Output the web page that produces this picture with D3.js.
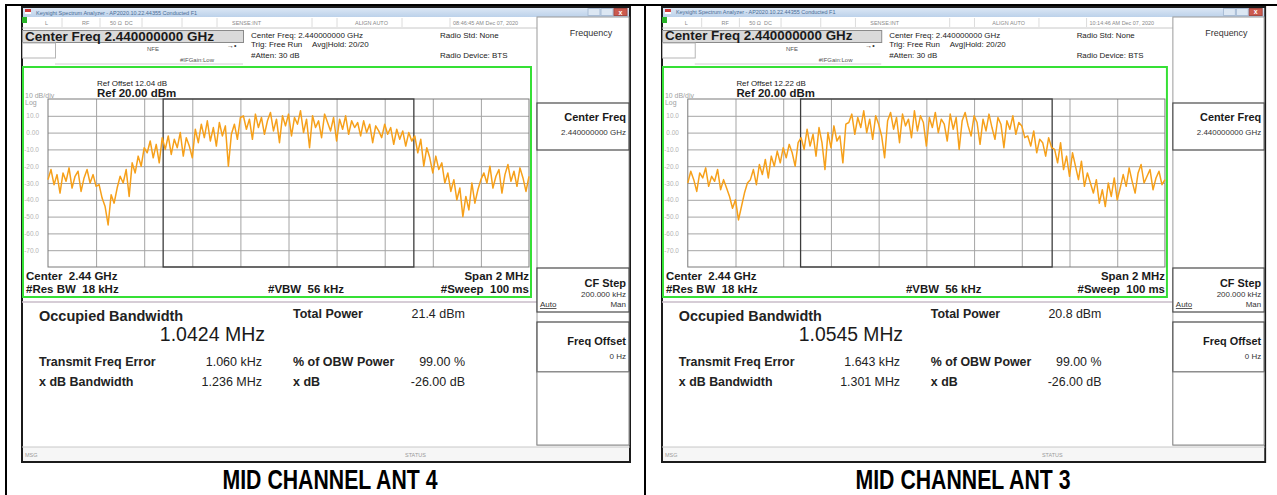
<!DOCTYPE html>
<html>
<head>
<meta charset="utf-8">
<script src="https://cdn.jsdelivr.net/npm/d3@7"></script>
<style>
  body { margin: 0; background: #fff; }
  svg { display: block; font-family: "Liberation Sans", Arial, sans-serif; }
</style>
</head>
<body>
<svg id="chart" width="1277" height="495"></svg>
<script>
// ---- values ----
const panelTitles = ["MID CHANNEL ANT 4", "MID CHANNEL ANT 3"];
const timestamps = ["08:46:45 AM Dec 07, 2020", "10:14:46 AM Dec 07, 2020"];
const refOffsets = ["Ref Offset 12.04 dB", "Ref Offset 12.22 dB"];
const obwMHz = [1.0424, 1.0545];
const obwLabels = ["1.0424 MHz", "1.0545 MHz"];
const totalPowers = ["21.4 dBm", "20.8 dBm"];
const freqErrors = ["1.060 kHz", "1.643 kHz"];
const xdbBandwidths = ["1.236 MHz", "1.301 MHz"];

const yTicks = [10, 0, -10, -20, -30, -40, -50, -60, -70];
const yTickLabels = ["10.0", "0.00", "-10.0", "-20.0", "-30.0", "-40.0", "-50.0", "-60.0", "-70.0"];
const xTicks = [-0.8, -0.6, -0.4, -0.2, 0, 0.2, 0.4, 0.6, 0.8]; // MHz from centre

// trace, dBm, 161 sweep points from -1 MHz to +1 MHz
const ant4Trace = [
  -28,-22,-31,-25,-36,-24,-29,-21,-33,-26,-23,-35,-27,-22,-30,-25,-32,
  -31,-39,-44,-55,-37,-42,-33,
  -26,-30,-22,-38,-18,-24,-14,-20,-9,
  -12,-5,-15,-7,-18,-3,
  -10,-2,-13,-4,-9,0,-14,-3,-8,-15,
  2,-6,5,-3,7,-5,3,-8,6,-2,4,-20,-1,5,-4,9,
  10,2,8,-4,11,3,9,-1,7,12,1,8,-6,10,4,11,-2,9,5,13,0,8,-9,10,3,7,-3,11,6,1,9,-5,8,2,10,-1,7,3,
  6,-2,7,0,5,-6,4,1,-3,5,-1,3,-7,2,-4,1,-8,0,-5,-2,
  -12,-4,-20,-9,-15,-24,
  -14,-22,-18,-30,-24,-35,-28,-40,-33,-50,
  -38,-46,-30,-42,-34,-28,
  -24,-30,-20,-33,-26,-22,-36,-25,-19,-29,-23,-32,-21,-27,-35,-26
];
const ant3Trace = [
  -30,-23,-28,-35,-24,-27,-21,-32,-26,-29,-22,-34,-28,
  -33,-38,-45,-40,-52,-44,-36,-30,
  -28,-22,-31,-19,-25,-16,-27,-14,-20,-11,-18,-9,-15,-7,-12,-20,-6,
  -3,-10,2,-8,-1,-14,3,-6,-22,0,-9,4,-5,-2,-18,5,
  6,11,-1,9,3,13,0,8,-4,10,5,-2,-15,7,12,2,9,-6,11,4,8,-3,13,1,10,6,-8,9,3,12,
  0,8,5,-5,11,2,9,-10,7,12,4,-2,10,6,-7,8,1,11,3,-4,9,5,-9,7,2,10,-1,6,4,-3,
  -2,-8,1,-12,-4,-6,-14,-3,-9,
  -10,-18,-6,-22,-14,-26,-12,-20,-28,-17,-32,-24,-30,
  -36,-28,-42,-34,-44,-30,-38,-27,-40,-33,
  -25,-32,-21,-29,-36,-24,-19,-30,-26,-22,-34,-27,-23,-31,-28
];
const traces = [ant4Trace, ant3Trace];

// ---- layout ----
const svg = d3.select("#chart");
const PW = 608, PH = 455;
const plot = { left: 26, right: 507, top: 92, bottom: 260 };

function txt(g, x, y, s, size, o = {}) {
  return g.append("text")
    .attr("x", x).attr("y", y)
    .attr("font-size", size)
    .attr("font-weight", o.bold ? "bold" : null)
    .attr("text-anchor", o.anchor || "start")
    .attr("fill", o.fill || "#111")
    .style("white-space", "pre")
    .text(s);
}

function box(g, x, y, w, h, stroke, fill, sw) {
  return g.append("rect").attr("x", x).attr("y", y).attr("width", w).attr("height", h)
    .attr("fill", fill || "none").attr("stroke", stroke).attr("stroke-width", sw || 1);
}

const defs = svg.append("defs");
const grad = defs.append("linearGradient").attr("id", "titlebar").attr("x1", 0).attr("x2", 0).attr("y1", 0).attr("y2", 1);
grad.append("stop").attr("offset", 0).attr("stop-color", "#dbe7f5");
grad.append("stop").attr("offset", 1).attr("stop-color", "#bcd1ea");

function drawPanel(g, k) {
  // screenshot frame
  box(g, 0, 0, PW, PH, "#1b1b1b", "#fff", 2);

  // window title bar
  g.append("rect").attr("x", 1).attr("y", 1).attr("width", PW - 2).attr("height", 9).attr("fill", "url(#titlebar)");
  g.append("rect").attr("x", 3).attr("y", 2).attr("width", 6).attr("height", 3).attr("fill", "#d23a3a");
  g.append("rect").attr("x", 3).attr("y", 5).attr("width", 6).attr("height", 2).attr("fill", "#fff");
  txt(g, 14, 7.5, "Keysight Spectrum Analyzer - AP2020.10.22.44355 Conducted F1", 5.5, { fill: "#4a6d96" });
  box(g, 566, 1.5, 12, 7, "#a9bdd6", "#dce7f3");
  box(g, 579, 1.5, 12, 7, "#a9bdd6", "#dce7f3");
  box(g, 592, 1.5, 13, 7, "#a54a44", "#cc5a4e");
  txt(g, 598.5, 7.5, "x", 7, { anchor: "middle", fill: "#fff", bold: true });

  // status row
  g.append("rect").attr("x", 0).attr("y", 10).attr("width", 5).attr("height", 6).attr("fill", "#27b327");
  g.append("line").attr("x1", 0).attr("x2", 515).attr("y1", 21).attr("y2", 21).attr("stroke", "#c8c8c8");
  [[23, "L"], [60, "RF"], [88, "50 \u03A9  DC"], [210, "SENSE:INT"], [333, "ALIGN AUTO"], [431, timestamps[k]]]
    .forEach(([x, s]) => txt(g, x, 18, s, 5.5, { fill: "#8a8a8a" }));
  [40, 78, 120, 160, 195, 290, 315, 380, 428].forEach(x =>
    g.append("line").attr("x1", x).attr("x2", x).attr("y1", 11).attr("y2", 20).attr("stroke", "#dcdcdc"));

  // header: active function + settings
  box(g, 0.5, 23.5, 221, 12, "#8a8a8a", "#dadada");
  txt(g, 3, 33.5, "Center Freq 2.440000000 GHz", 13.5, { bold: true, fill: "#1a1a1a" });
  box(g, 0.5, 36, 33, 15, "#b5b5b5", "#fff");
  g.append("line").attr("x1", 33).attr("x2", 221).attr("y1", 57).attr("y2", 57).attr("stroke", "#d0d0d0");
  txt(g, 125, 44, "NFE", 6, { fill: "#555" });
  txt(g, 158, 55, "#IFGain:Low", 6, { fill: "#555" });
  txt(g, 205, 41, "\u2192\u2022", 7, { fill: "#333" });
  txt(g, 229, 31, "Center Freq: 2.440000000 GHz", 8, { fill: "#222" });
  txt(g, 229, 40, "Trig: Free Run", 8, { fill: "#222" });
  txt(g, 290, 40, "Avg|Hold: 20/20", 8, { fill: "#222" });
  txt(g, 229, 51, "#Atten: 30 dB", 8, { fill: "#222" });
  txt(g, 418, 31, "Radio Std: None", 8, { fill: "#222" });
  txt(g, 418, 51, "Radio Device: BTS", 8, { fill: "#222" });

  // green spectrum window
  box(g, 1, 60, 508, 230, "#35e035", "#fff", 2);
  txt(g, 75, 79, refOffsets[k], 8, { fill: "#222" });
  txt(g, 75, 90, "Ref 20.00 dBm", 11.5, { bold: true, fill: "#1a1a1a" });
  txt(g, 3, 91, "10 dB/div", 7, { fill: "#a0a0a0" });
  txt(g, 3, 98, "Log", 7, { fill: "#a0a0a0" });

  const x = d3.scaleLinear().domain([-1, 1]).range([plot.left, plot.right]);
  const y = d3.scaleLinear().domain([-80, 20]).range([plot.bottom, plot.top]);
  const plotW = plot.right - plot.left, plotH = plot.bottom - plot.top;

  const yAxis = g.append("g").attr("transform", `translate(${plot.left},0)`)
    .call(d3.axisLeft(y).tickValues(yTicks).tickSize(-plotW).tickPadding(9)
      .tickFormat((d, i) => yTickLabels[i]));
  const xAxis = g.append("g").attr("transform", `translate(0,${plot.bottom})`)
    .call(d3.axisBottom(x).tickValues(xTicks).tickSize(-plotH).tickFormat(""));
  [yAxis, xAxis].forEach(a => {
    a.select(".domain").remove();
    a.selectAll(".tick line").attr("stroke", "#a4a4a4").attr("stroke-width", 1);
  });
  yAxis.selectAll(".tick text").attr("fill", "#b4b4b4").attr("font-size", 6.5)
    .attr("font-family", "Liberation Sans, Arial, sans-serif");
  box(g, plot.left, plot.top, plotW, plotH, "#7a7a7a");

  // occupied bandwidth markers
  const xl = x(-obwMHz[k] / 2), xr = x(obwMHz[k] / 2);
  box(g, xl, plot.top, xr - xl, plotH, "#3c3c3c", "none", 1.3);

  // trace
  const idx = d3.scaleLinear().domain([0, traces[k].length - 1]).range([-1, 1]);
  const line = d3.line().x((d, i) => x(idx(i))).y(d => y(d));
  g.append("path").datum(traces[k]).attr("d", line)
    .attr("fill", "none").attr("stroke", "#f6a01a").attr("stroke-width", 1.5)
    .attr("stroke-linejoin", "round");

  txt(g, 4, 273, "Center  2.44 GHz", 11.5, { bold: true, fill: "#1a1a1a" });
  txt(g, 4, 286, "#Res BW  18 kHz", 11.5, { bold: true, fill: "#1a1a1a" });
  txt(g, 246, 286, "#VBW  56 kHz", 11.5, { bold: true, fill: "#1a1a1a" });
  txt(g, 507, 273, "Span 2 MHz", 11.5, { bold: true, fill: "#1a1a1a", anchor: "end" });
  txt(g, 507, 286, "#Sweep  100 ms", 11.5, { bold: true, fill: "#1a1a1a", anchor: "end" });

  // results
  g.append("line").attr("x1", 0).attr("x2", 515).attr("y1", 295).attr("y2", 295).attr("stroke", "#c9bcc9").attr("stroke-width", 1.5);
  txt(g, 17, 314, "Occupied Bandwidth", 14.5, { bold: true, fill: "#222" });
  txt(g, 243, 334, obwLabels[k], 19.5, { anchor: "end", fill: "#1a1a1a" });
  txt(g, 271, 311, "Total Power", 12.5, { bold: true, fill: "#222" });
  txt(g, 443, 311, totalPowers[k], 12.5, { anchor: "end", fill: "#222" });
  txt(g, 17, 359, "Transmit Freq Error", 12.5, { bold: true, fill: "#222" });
  txt(g, 240, 359, freqErrors[k], 12.5, { anchor: "end", fill: "#222" });
  txt(g, 271, 359, "% of OBW Power", 12.5, { bold: true, fill: "#222" });
  txt(g, 443, 359, "99.00 %", 12.5, { anchor: "end", fill: "#222" });
  txt(g, 17, 379, "x dB Bandwidth", 12.5, { bold: true, fill: "#222" });
  txt(g, 240, 379, xdbBandwidths[k], 12.5, { anchor: "end", fill: "#222" });
  txt(g, 271, 379, "x dB", 12.5, { bold: true, fill: "#222" });
  txt(g, 443, 379, "-26.00 dB", 12.5, { anchor: "end", fill: "#222" });

  // status bar
  g.append("rect").attr("x", 1).attr("y", 440).attr("width", PW - 2).attr("height", 14).attr("fill", "#f6f6f6");
  g.append("line").attr("x1", 0).attr("x2", PW).attr("y1", 440).attr("y2", 440).attr("stroke", "#c8c8c8");
  txt(g, 3, 450, "MSG", 5.5, { fill: "#9a9a9a" });
  txt(g, 383, 450, "STATUS", 5.5, { fill: "#9a9a9a" });

  // soft key column
  box(g, 515, 10, 92, 428, "#9a9a9a", "#fff");
  txt(g, 569, 29, "Frequency", 9, { anchor: "middle", fill: "#333" });
  box(g, 515, 96, 92, 47, "#4a4a4a", "#fff", 1.2);
  txt(g, 604, 114, "Center Freq", 11, { bold: true, anchor: "end", fill: "#1a1a1a" });
  txt(g, 604, 128, "2.440000000 GHz", 8, { anchor: "end", fill: "#333" });
  box(g, 515, 261, 92, 44, "#4a4a4a", "#fff", 1.2);
  txt(g, 604, 280, "CF Step", 11, { bold: true, anchor: "end", fill: "#1a1a1a" });
  txt(g, 604, 290, "200.000 kHz", 8, { anchor: "end", fill: "#333" });
  txt(g, 518, 300, "Auto", 8, { fill: "#333" }).attr("text-decoration", "underline");
  txt(g, 604, 300, "Man", 8, { anchor: "end", fill: "#333" });
  box(g, 515, 315, 92, 50, "#4a4a4a", "#fff", 1.2);
  txt(g, 604, 338, "Freq Offset", 11, { bold: true, anchor: "end", fill: "#1a1a1a" });
  txt(g, 604, 352, "0 Hz", 8, { anchor: "end", fill: "#333" });
  box(g, 515, 365, 92, 73, "#8a8a8a", "#fff");
}

// table lines
svg.append("line").attr("x1", 6).attr("x2", 1277).attr("y1", 5).attr("y2", 5).attr("stroke", "#000").attr("stroke-width", 2);
svg.append("line").attr("x1", 6).attr("x2", 6).attr("y1", 4).attr("y2", 495).attr("stroke", "#000").attr("stroke-width", 2);
svg.append("line").attr("x1", 645).attr("x2", 645).attr("y1", 4).attr("y2", 495).attr("stroke", "#000").attr("stroke-width", 2);

const panelPos = [{ x: 22, sx: 1, cx: 330 }, { x: 662, sx: 0.992, cx: 963 }];
panelPos.forEach((p, k) => {
  const g = svg.append("g").attr("transform", `translate(${p.x},7) scale(${p.sx},1)`);
  drawPanel(g, k);
  svg.append("text")
    .attr("x", p.cx).attr("y", 489)
    .attr("text-anchor", "middle")
    .attr("font-family", "'Liberation Sans Narrow', 'Arial Narrow', 'Liberation Sans', Arial, sans-serif")
    .attr("font-weight", "bold")
    .attr("font-size", 27)
    .attr("textLength", 215)
    .attr("lengthAdjust", "spacingAndGlyphs")
    .attr("fill", "#000")
    .text(panelTitles[k]);
});
</script>
</body>
</html>
